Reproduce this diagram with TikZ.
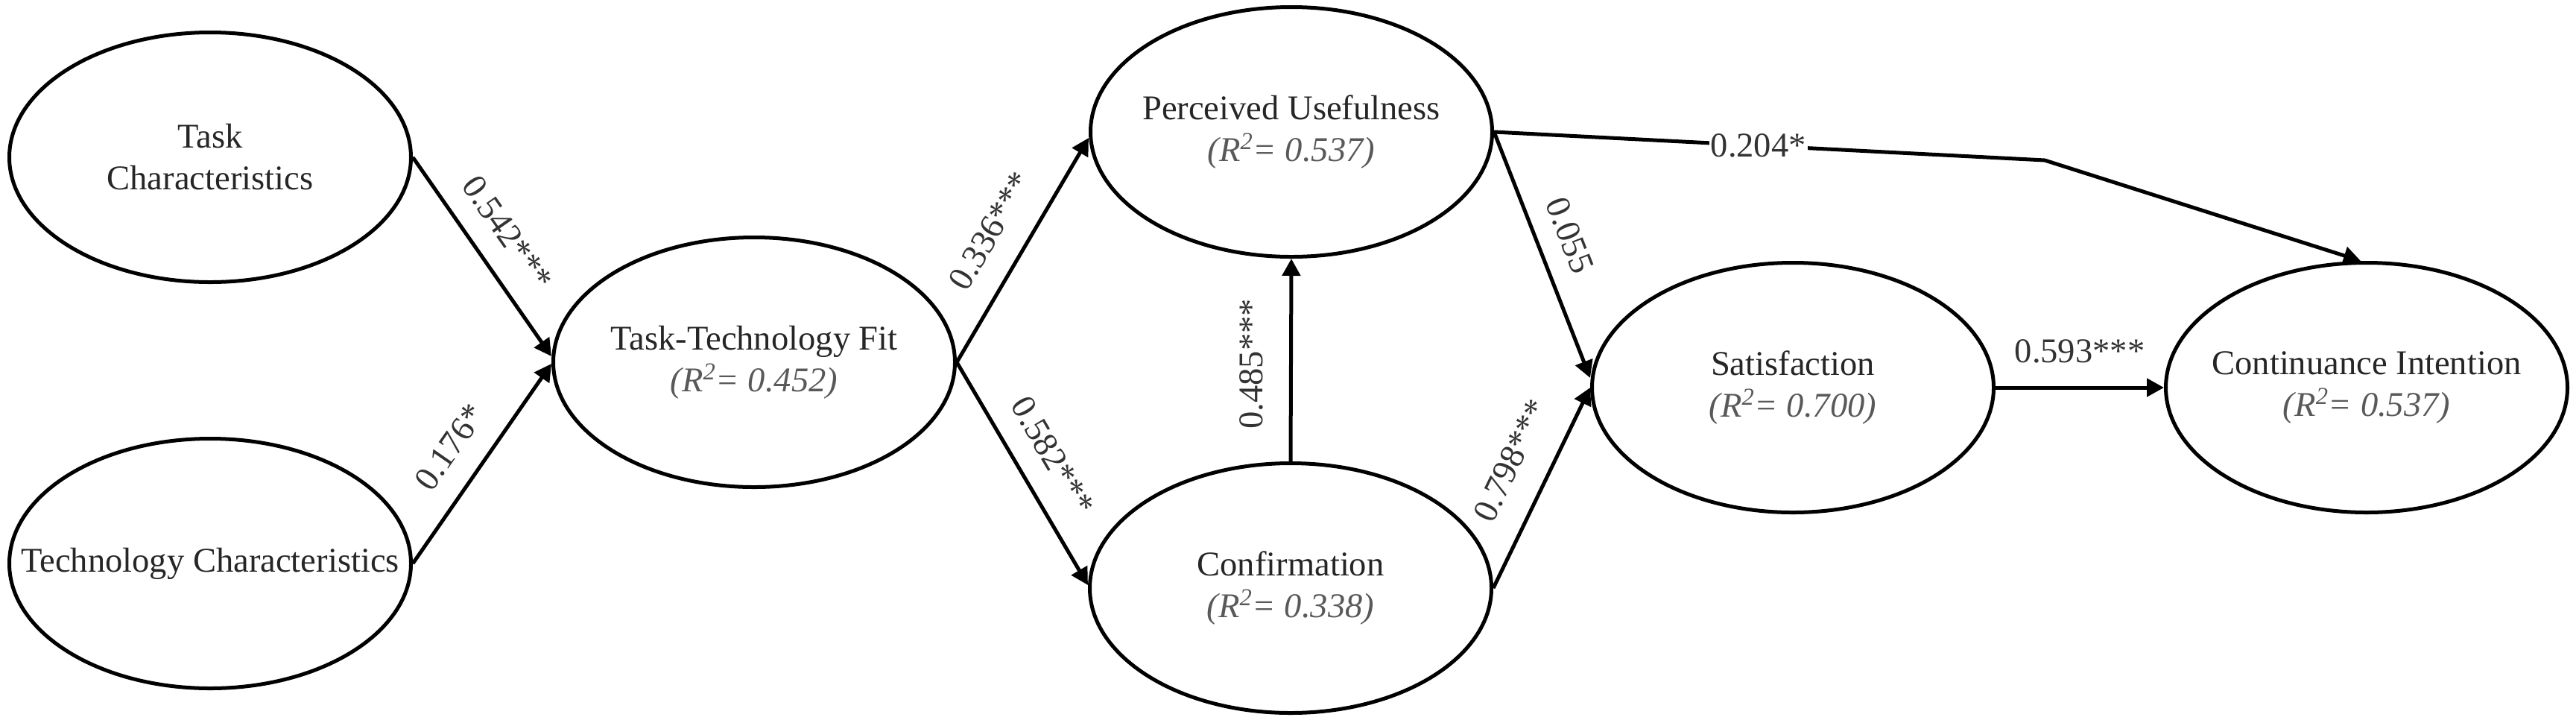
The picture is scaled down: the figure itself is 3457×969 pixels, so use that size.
\documentclass[tikz,border=0pt]{standalone}
\usepackage{fontspec}
\setmainfont{Liberation Serif}
\usetikzlibrary{shapes.geometric,arrows.meta}
\newcommand{\rsqval}[1]{{\itshape\color{black!65}(R\textsuperscript{2}= #1)}}
\begin{document}
\begin{tikzpicture}[x=0.2mm,y=-0.2mm,
  construct/.style={ellipse, draw=black, line width=1mm, minimum width=107.8mm, minimum height=67mm, inner sep=0pt},
  ctext/.style={align=center, inner sep=0pt, text=black!85, font=\fontsize{26.5}{31.8}\selectfont},
  conn/.style={line width=1mm, -{Triangle[length=4.6mm,width=4.8mm]}},
  coef/.style={sloped, inner sep=0pt, text=black!80, font=\fontsize{26.5}{31.8}\selectfont},
]
\useasboundingbox (0,0) rectangle (3457,969);
% constructs
\node[construct] (tc) at (282,211) {};
\node[ctext] (tct) at (tc.center) {Task\\Characteristics};
\node[construct] (tch) at (282,756) {};
\node[ctext] (tcht) at (tch.center) {Technology Characteristics};
\node[construct] (ttf) at (1012,486) {};
\node[ctext] (ttft) at (ttf.center) {Task-Technology Fit\\\rsqval{0.452}};
\node[construct] (pu) at (1733,177) {};
\node[ctext] (put) at (pu.center) {Perceived Usefulness\\\rsqval{0.537}};
\node[construct] (conf) at (1732,789) {};
\node[ctext] (conft) at (conf.center) {Confirmation\\\rsqval{0.338}};
\node[construct] (sat) at (2406,520) {};
\node[ctext] (satt) at (sat.center) {Satisfaction\\\rsqval{0.700}};
\node[construct] (ci) at (3176,520) {};
\node[ctext] (cit) at (ci.center) {Continuance Intention\\\rsqval{0.537}};
\coordinate (knee) at (2744,215);
% paths
\draw[conn] (tc.east) -- node[coef, pos=0.48, above=5.6mm]{0.542***} ([yshift=1.6mm]ttf.west);
\draw[conn] (tch.east) -- node[coef, pos=0.48, above=6mm]{0.176*} ([yshift=-0.4mm]ttf.west);
\draw[conn] (ttf.east) -- node[coef, pos=0.5, above=6.5mm]{0.336***} ([yshift=-1.6mm]pu.west);
\draw[conn] (ttf.east) -- node[coef, pos=0.5, above=5.8mm]{0.582***} ([yshift=0.8mm]conf.west);
\draw[conn] (conf.north) -- node[coef, pos=0.48, above=7mm]{0.485***} (pu.south);
\draw[conn] (pu.east) -- node[coef, pos=0.47, above=5.2mm]{0.055} ([yshift=2.6mm]sat.west);
\draw[conn] (conf.east) -- node[coef, pos=0.55, above=7mm]{0.798***} (sat.west);
\draw[conn] (sat.east) -- node[coef, pos=0.5, above=6mm]{0.593***} (ci.west);
\draw[conn] (pu.east) -- node[pos=0.48, fill=white, inner sep=1pt, text=black!80, font=\fontsize{26.5}{31.8}\selectfont]{0.204*} (knee) -- ([xshift=-1.6mm]ci.north);
\end{tikzpicture}
\end{document}
